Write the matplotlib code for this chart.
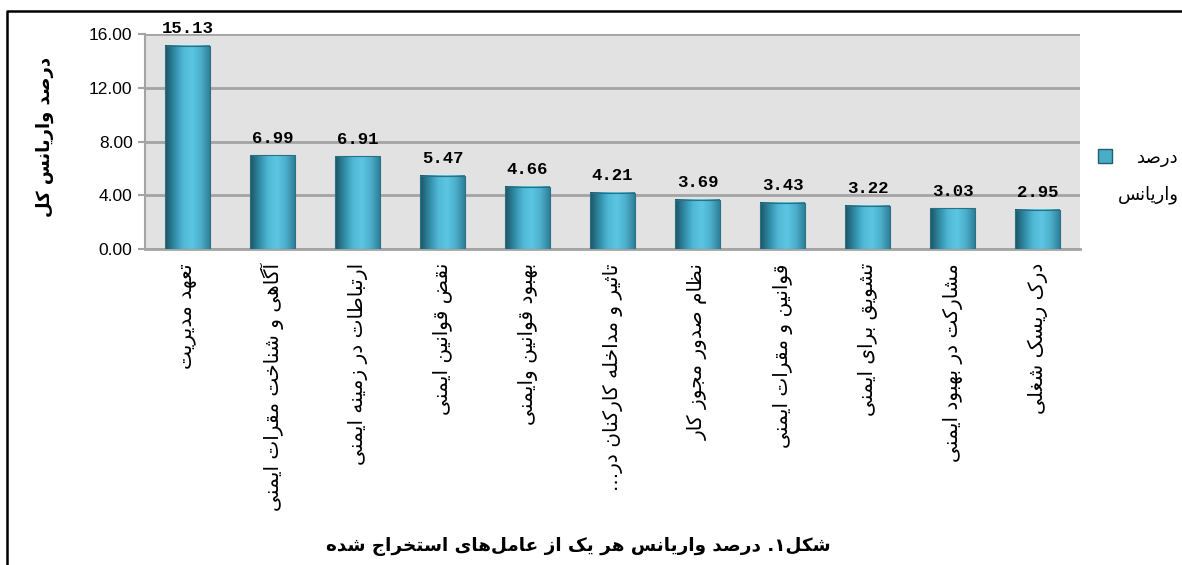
import numpy as np
import matplotlib
matplotlib.use("Agg")
import matplotlib.pyplot as plt
from matplotlib.colors import LinearSegmentedColormap
from matplotlib.patches import Rectangle
from matplotlib.lines import Line2D

factors = ['تعهد مدیریت',
           'آگاهی و شناخت مقرات ایمنی',
           'ارتباطات در زمینه ایمنی',
           'نقض قوانین ایمنی',
           'بهبود قوانین وایمنی',
           'تاثیر و مداخله کارکنان در...',
           'نظام صدور مجوز کار',
           'قوانین و مقرات ایمنی',
           'تشویق برای ایمنی',
           'مشارکت در بهبود ایمنی',
           'درک ریسک شغلی']
variance = [15.13, 6.99, 6.91, 5.47, 4.66, 4.21, 3.69, 3.43, 3.22, 3.03, 2.95]
yticks = [0, 4, 8, 12, 16]
ylabel = 'درصد واریانس کل'
legend_lines = ['درصد', 'واریانس']
caption = 'شکل۱. درصد واریانس هر یک از عامل‌های استخراج شده'

# minimal persian shaping (matplotlib has no bidi / joining)
FORMS = {
    'ا': (0xFE8D, 0xFE8E), 'آ': (0xFE81, 0xFE82), 'أ': (0xFE83, 0xFE84),
    'د': (0xFEA9, 0xFEAA), 'ذ': (0xFEAB, 0xFEAC), 'ر': (0xFEAD, 0xFEAE),
    'ز': (0xFEAF, 0xFEB0), 'ژ': (0xFB8A, 0xFB8B), 'و': (0xFEED, 0xFEEE),
    'ب': (0xFE8F, 0xFE90, 0xFE91, 0xFE92), 'پ': (0xFB56, 0xFB57, 0xFB58, 0xFB59),
    'ت': (0xFE95, 0xFE96, 0xFE97, 0xFE98), 'ث': (0xFE99, 0xFE9A, 0xFE9B, 0xFE9C),
    'ج': (0xFE9D, 0xFE9E, 0xFE9F, 0xFEA0), 'چ': (0xFB7A, 0xFB7B, 0xFB7C, 0xFB7D),
    'ح': (0xFEA1, 0xFEA2, 0xFEA3, 0xFEA4), 'خ': (0xFEA5, 0xFEA6, 0xFEA7, 0xFEA8),
    'س': (0xFEB1, 0xFEB2, 0xFEB3, 0xFEB4), 'ش': (0xFEB5, 0xFEB6, 0xFEB7, 0xFEB8),
    'ص': (0xFEB9, 0xFEBA, 0xFEBB, 0xFEBC), 'ض': (0xFEBD, 0xFEBE, 0xFEBF, 0xFEC0),
    'ط': (0xFEC1, 0xFEC2, 0xFEC3, 0xFEC4), 'ظ': (0xFEC5, 0xFEC6, 0xFEC7, 0xFEC8),
    'ع': (0xFEC9, 0xFECA, 0xFECB, 0xFECC), 'غ': (0xFECD, 0xFECE, 0xFECF, 0xFED0),
    'ف': (0xFED1, 0xFED2, 0xFED3, 0xFED4), 'ق': (0xFED5, 0xFED6, 0xFED7, 0xFED8),
    'ک': (0xFB8E, 0xFB8F, 0xFB90, 0xFB91), 'گ': (0xFB92, 0xFB93, 0xFB94, 0xFB95),
    'ل': (0xFEDD, 0xFEDE, 0xFEDF, 0xFEE0), 'م': (0xFEE1, 0xFEE2, 0xFEE3, 0xFEE4),
    'ن': (0xFEE5, 0xFEE6, 0xFEE7, 0xFEE8), 'ه': (0xFEE9, 0xFEEA, 0xFEEB, 0xFEEC),
    'ی': (0xFBFC, 0xFBFD, 0xFBFE, 0xFBFF),
}


def fa(text):
    out = []
    n = len(text)
    for i, ch in enumerate(text):
        f = FORMS.get(ch)
        if f is None:
            if ch != '\u200c':
                out.append(ch)
            continue
        prev = text[i - 1] if i > 0 else ''
        nxt = text[i + 1] if i < n - 1 else ''
        jp = prev in FORMS and len(FORMS[prev]) == 4
        jn = len(f) == 4 and nxt in FORMS
        if jp and jn:
            c = f[3]
        elif jp:
            c = f[1]
        elif jn:
            c = f[2]
        else:
            c = f[0]
        out.append(chr(c))
    return ''.join(out)[::-1]


plt.rcParams['font.family'] = ['DejaVu Sans']

fig = plt.figure(figsize=(11.82, 5.65), dpi=100)
ax = fig.add_axes([0.1227, 0.559, 0.7910, 0.3805])
ax.set_facecolor('#e2e2e2')

x = np.arange(len(factors))
w = 0.52
cmap = LinearSegmentedColormap.from_list(
    'cyl', ['#1d5566', '#2f8aa3', '#4fb8d6', '#5cc6e2', '#4cb0cc', '#2f8099'])
grad = np.linspace(0, 1, 64).reshape(1, -1)
for xi, v in zip(x, variance):
    ax.imshow(grad, extent=[xi - w / 2, xi + w / 2, 0, v], aspect='auto',
              cmap=cmap, zorder=3, interpolation='bicubic')
ax.bar(x, variance, width=w, facecolor='none', edgecolor='#2a7185',
       linewidth=0.8, zorder=4)
for xi, v in zip(x, variance):
    ax.annotate(f'{v:.2f}', (xi, v), xytext=(0, 7), textcoords='offset points',
                ha='center', va='bottom', fontsize=12.5, fontweight='bold',
                family='Liberation Mono')

ax.set_xlim(-0.5, len(factors) - 0.5)
ax.set_ylim(0, 16)
ax.set_yticks(yticks)
ax.set_yticklabels([f'{t:.2f}' for t in yticks], fontsize=12.5,
                   family='Liberation Sans')
ax.yaxis.grid(True, color='#a4a4a4', linewidth=2)
ax.set_axisbelow(True)
ax.tick_params(axis='y', length=5, color='#a4a4a4', width=1.5, pad=4)
ax.tick_params(axis='x', length=0, pad=10)
ax.set_xticks(x)
ax.set_xticklabels([fa(f) for f in factors], rotation=90, fontsize=14.5,
                   va='top', ha='center')
for s in ['top', 'right']:
    ax.spines[s].set_visible(False)
ax.spines['left'].set_color('#a4a4a4')
ax.spines['left'].set_linewidth(1.5)
ax.spines['bottom'].set_color('#a4a4a4')
ax.spines['bottom'].set_linewidth(2)

fig.text(45 / 1182, 1 - 137 / 565, fa(ylabel), rotation=90, ha='center',
         va='center', fontsize=13, fontweight='bold')
fig.text(578 / 1182, 1 - 547 / 565, fa(caption), ha='center', va='center',
         fontsize=13.2, fontweight='bold')

# legend
fig.patches.append(Rectangle((1098 / 1182, 1 - 163 / 565), 14 / 1182, 14 / 565,
                             transform=fig.transFigure, facecolor='#4bacc6',
                             edgecolor='#1f5f72', linewidth=1))
fig.text(1179 / 1182, 1 - 158 / 565, fa(legend_lines[0]), ha='right',
         va='center', fontsize=13)
fig.text(1179 / 1182, 1 - 195 / 565, fa(legend_lines[1]), ha='right',
         va='center', fontsize=13)

# outer frame: top and left edges only
fig.lines.append(Line2D([7 / 1182, 7 / 1182, 1.0], [0.0, 1 - 11 / 565, 1 - 11 / 565],
                        transform=fig.transFigure, color='black', linewidth=1.8))

fig.savefig('out.png', dpi=100)
